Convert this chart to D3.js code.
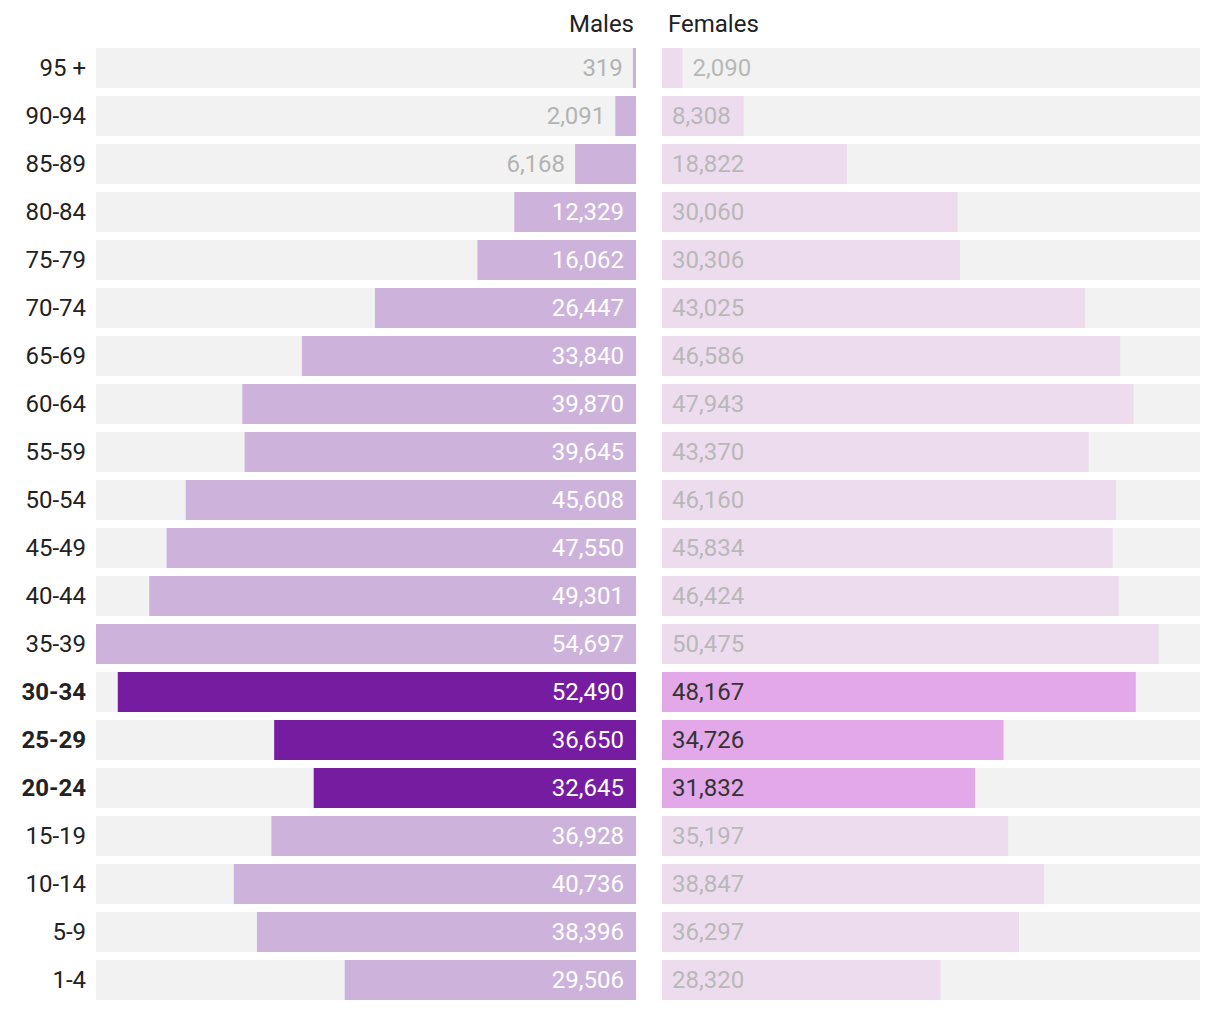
<!DOCTYPE html>
<html><head><meta charset="utf-8">
<script src="https://cdn.jsdelivr.net/npm/d3@7"></script>
<style>body{margin:0;background:#fff;font-family:Roboto,"Noto Sans",sans-serif;}</style>
</head><body><svg id="c" width="1220" height="1010"></svg>
<script>
const ageGroups = ["95 +","90-94","85-89","80-84","75-79","70-74","65-69","60-64","55-59","50-54","45-49","40-44","35-39","30-34","25-29","20-24","15-19","10-14","5-9","1-4"];
const males = [319,2091,6168,12329,16062,26447,33840,39870,39645,45608,47550,49301,54697,52490,36650,32645,36928,40736,38396,29506];
const females = [2090,8308,18822,30060,30306,43025,46586,47943,43370,46160,45834,46424,50475,48167,34726,31832,35197,38847,36297,28320];
const highlighted = ["30-34","25-29","20-24"];
const seriesNames = ["Males","Females"];

const svg = d3.select("#c");
const fmt = d3.format(",");
const maxV = d3.max(males.concat(females));
const mL = 96, mR = 636, fL = 662, fR = 1200;
const y = d3.scaleBand().domain(ageGroups).range([48, 48 + 48*ageGroups.length - 8]).paddingInner(8/48).paddingOuter(0);
const xm = d3.scaleLinear().domain([0, maxV]).range([0, mR - mL]);
const xf = d3.scaleLinear().domain([0, maxV]).range([0, fR - fL]);
const fs = 24;

svg.append("text").attr("x", 634).attr("y", 32).attr("text-anchor","end").attr("font-size",fs).attr("fill","#222").text(seriesNames[0]);
svg.append("text").attr("x", 668).attr("y", 32).attr("text-anchor","start").attr("font-size",fs).attr("fill","#222").text(seriesNames[1]);

const rows = svg.selectAll("g.row").data(ageGroups).join("g").attr("class","row")
  .attr("transform", d => `translate(0,${y(d)})`);
const bw = y.bandwidth();

rows.append("text").attr("x", 86).attr("y", bw/2).attr("dy","0.35em").attr("text-anchor","end")
  .attr("font-size", fs).attr("fill","#222")
  .attr("font-weight", d => highlighted.includes(d) ? "bold" : "normal").text(d => d);

rows.append("rect").attr("x", mL).attr("width", mR - mL).attr("height", bw).attr("fill","#f2f2f2");
rows.append("rect").attr("x", fL).attr("width", fR - fL).attr("height", bw).attr("fill","#f2f2f2");

rows.append("rect").attr("x", (d,i) => mR - xm(males[i])).attr("width", (d,i) => xm(males[i])).attr("height", bw)
  .attr("fill", d => highlighted.includes(d) ? "#761ca1" : "#cdb3dc");
rows.append("rect").attr("x", fL).attr("width", (d,i) => xf(females[i])).attr("height", bw)
  .attr("fill", d => highlighted.includes(d) ? "#e3a8e8" : "#eddcee");

rows.each(function(d,i){
  const g = d3.select(this);
  const hl = highlighted.includes(d);
  const mw = xm(males[i]);
  const mt = g.append("text").attr("y", bw/2).attr("dy","0.35em").attr("font-size",fs).attr("text-anchor","end").text(fmt(males[i]));
  const tw = mt.node().getComputedTextLength();
  if (tw + 20 < mw) mt.attr("x", mR - 12).attr("fill", "#fff");
  else mt.attr("x", mR - mw - 10).attr("fill", "#b3b3b3");
  const fw = xf(females[i]);
  const ft = g.append("text").attr("y", bw/2).attr("dy","0.35em").attr("font-size",fs).attr("text-anchor","start").text(fmt(females[i]));
  const tw2 = ft.node().getComputedTextLength();
  if (tw2 + 20 < fw) ft.attr("x", fL + 10);
  else ft.attr("x", fL + fw + 10);
  ft.attr("fill", hl ? "#333" : "#b8b8b8");
});
</script></body></html>
